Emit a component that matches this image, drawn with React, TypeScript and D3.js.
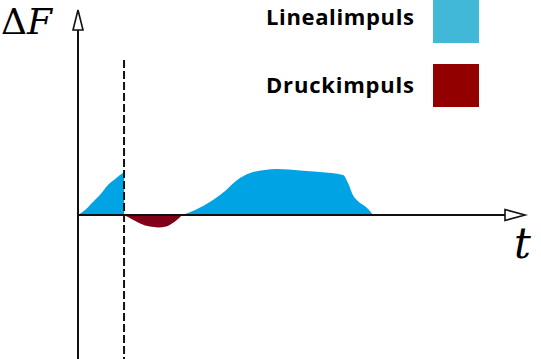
import React from "react";
import * as d3 from "d3";

const W = 541;
const H = 359;

// Time (t) and force change (ΔF) samples, in chart units
const lineal1T = [0, 0.157, 0.313, 0.49, 0.67, 0.83, 0.94, 1.03];
const lineal1F = [0, 0.25, 0.6, 1.0, 1.5, 1.8, 2.0, 2.15];

const druckT = [1.03, 1.16, 1.39, 1.61, 1.79, 1.97, 2.17, 2.33];
const druckF = [0, -0.15, -0.42, -0.58, -0.62, -0.57, -0.32, 0];

const lineal2T = [2.33, 2.62, 3.02, 3.29, 3.56, 3.85, 4.18, 4.45, 4.97, 5.41, 5.93, 6.04, 6.15, 6.26, 6.38, 6.49, 6.6];
const lineal2F = [0, 0.25, 0.75, 1.2, 1.75, 2.1, 2.25, 2.3, 2.22, 2.15, 2.0, 1.6, 1.0, 0.7, 0.5, 0.3, 0];

const markerT = 1.03;
const markerTop = 7.75;

const legendLabels = ["Linealimpuls", "Druckimpuls"];
const legendColors = ["#41b8d8", "#930000"];
const linealColor = "#00a3e4";
const druckColor = "#800018";

const x = d3.scaleLinear().domain([0, 10]).range([78, 525]);
const y = d3.scaleLinear().domain([-7.2, 10.25]).range([359, 10]);

const area = d3
  .area<[number, number]>()
  .x((d) => x(d[0]))
  .y0(() => y(0))
  .y1((d) => y(d[1]))
  .curve(d3.curveMonotoneX);

const zip = (a: number[], b: number[]) => a.map((v, i) => [v, b[i]] as [number, number]);

export default function App() {
  const x0 = x(0);
  const y0 = y(0);
  const xEnd = x(10);
  const yTop = y(10.25);
  return (
    <svg width={W} height={H} style={{ position: "absolute", left: 0, top: 0 }}>
      <rect width={W} height={H} fill="#fff" />
      <path d={area(zip(lineal1T, lineal1F)) || ""} fill={linealColor} />
      <path d={area(zip(lineal2T, lineal2F)) || ""} fill={linealColor} />
      <path d={area(zip(druckT, druckF)) || ""} fill={druckColor} />

      {/* dashed marker */}
      <line
        x1={x(markerT)}
        x2={x(markerT)}
        y1={y(markerTop)}
        y2={H}
        stroke="#111"
        strokeWidth={2}
        strokeDasharray="8 3"
      />

      {/* axes */}
      <line x1={x0} x2={x0} y1={yTop + 20} y2={H} stroke="#111" strokeWidth={2} />
      <line x1={x0} x2={xEnd - 20} y1={y0} y2={y0} stroke="#111" strokeWidth={2} />
      <path
        d={`M${x0},${yTop} L${x0 - 5},${yTop + 20} L${x0 + 5},${yTop + 20} Z`}
        fill="#fff"
        stroke="#111"
        strokeWidth={1.6}
      />
      <path
        d={`M${xEnd},${y0} L${xEnd - 20},${y0 - 5.5} L${xEnd - 20},${y0 + 5.5} Z`}
        fill="#fff"
        stroke="#111"
        strokeWidth={1.6}
      />

      <text x={1} y={33.5} fontFamily="'DejaVu Serif', serif" fontSize={36} fill="#000">
        Δ<tspan fontStyle="italic">F</tspan>
      </text>
      <text x={514} y={258} fontFamily="'DejaVu Serif', serif" fontStyle="italic" fontSize={42} fill="#000">
        t
      </text>

      {legendLabels.map((lab, i) => (
        <g key={lab}>
          <text
            x={266}
            y={25 + i * 68}
            fontFamily="'Open Sans', sans-serif"
            fontWeight="bold"
            fontSize={22}
            textLength={148}
            lengthAdjust="spacing"
            fill="#000"
          >
            {lab}
          </text>
          <rect x={433} y={i * 64} width={46} height={43} fill={legendColors[i]} />
        </g>
      ))}
    </svg>
  );
}
